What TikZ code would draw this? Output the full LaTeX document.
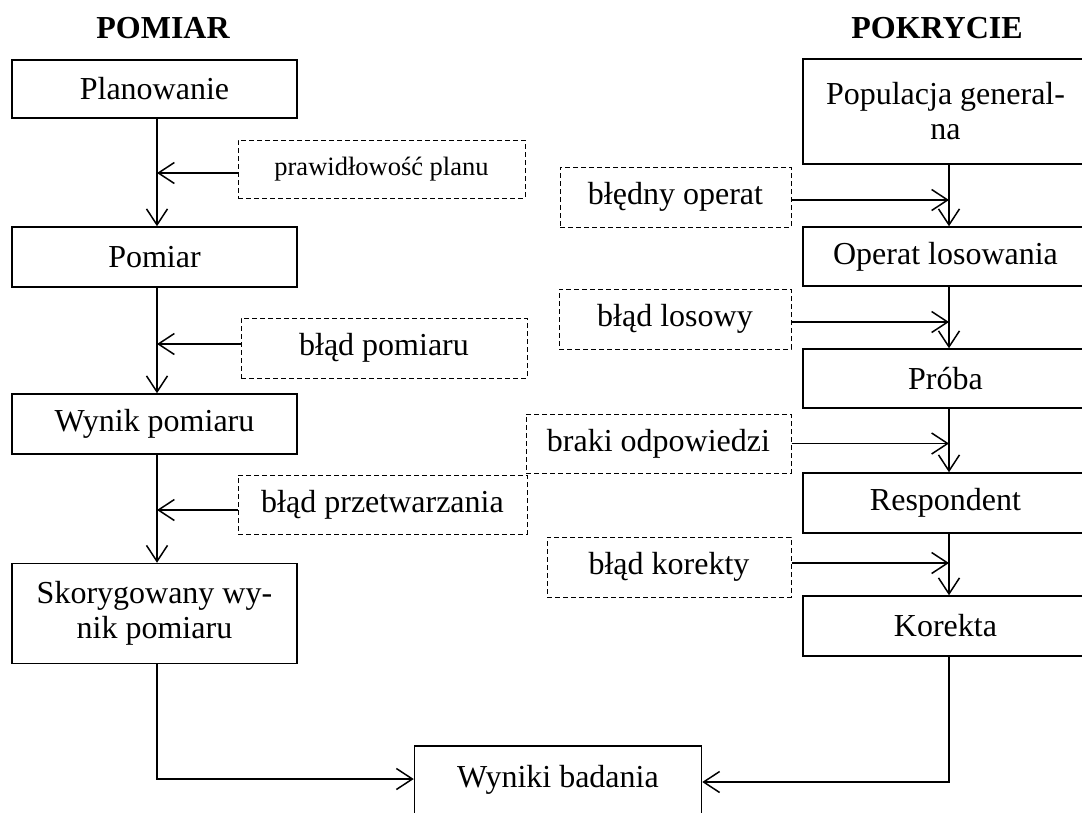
\documentclass[tikz,border=0pt]{standalone}
\usepackage{fontspec}
\setmainfont{Liberation Serif}
\usetikzlibrary{arrows.meta,calc}

\begin{document}
\begin{tikzpicture}[x=1pt,y=-1pt,
  stage/.style={draw, line width=1.5pt, minimum width=285pt, inner sep=0pt,
    align=center, font=\fontsize{32}{35}\selectfont},
  errbox/.style={draw, line width=1pt, dash pattern=on 5pt off 3pt, inner sep=0pt,
    align=center, font=\fontsize{32}{35}\selectfont},
  title/.style={font=\fontsize{32}{35}\selectfont\bfseries, inner sep=0pt},
  flow/.style={line width=1.5pt, -{Straight Barb[length=16pt,width=21pt,line width=1.5pt]}}
]
\useasboundingbox (0,0) rectangle (1082,812);
\clip (0,0) rectangle (1082,812);

% column headings
\node[title] (tpom) at (163,28) {POMIAR};
\node[title] (tpok) at (937,28) {POKRYCIE};

% measurement column
\node[stage, minimum height=58pt]  (plan) at (154.5,89)    {Planowanie};
\node[stage, minimum height=60pt]  (pom)  at (154.5,257)   {Pomiar};
\node[stage, minimum height=60pt]  (wyn)  at (154.5,424)   {Wynik pomiaru};
\node[stage, minimum height=100pt] (skor) at (154.5,613.5) {Skorygowany wy-\\nik pomiaru};

% coverage column
\node[stage, minimum height=105pt] (pop)   at (945.5,111.5) {Populacja general-\\na};
\node[stage, minimum height=59pt]  (oper)  at (945.5,256.5) {Operat losowania};
\node[stage, minimum height=59pt]  (proba) at (945.5,378.5) {Próba};
\node[stage, minimum height=60pt]  (resp)  at (945.5,503)   {Respondent};
\node[stage, minimum height=60pt]  (kor)   at (945.5,626)   {Korekta};

% final result
\node[stage, minimum width=287pt, minimum height=68pt] (wyniki) at (558,780) {Wyniki badania};

% error sources, measurement side
\node[errbox, minimum width=287pt, minimum height=58pt, font=\fontsize{26.5}{30}\selectfont]
  (e1) at (381.5,169) {prawidłowość planu};
\node[errbox, minimum width=286pt, minimum height=60pt] (e2) at (384,348)   {błąd pomiaru};
\node[errbox, minimum width=289pt, minimum height=59pt] (e3) at (382.5,504.5) {błąd przetwarzania};

% error sources, coverage side
\node[errbox, minimum width=231pt, minimum height=60pt] (r1) at (675.5,197)  {błędny operat};
\node[errbox, minimum width=232pt, minimum height=60pt] (r2) at (675,319)    {błąd losowy};
\node[errbox, minimum width=265pt, minimum height=59pt] (r3) at (658.5,443.5) {braki odpowiedzi};
\node[errbox, minimum width=244pt, minimum height=60pt] (r4) at (669,567)    {błąd korekty};

% main flow, measurement side
\draw[flow] ([xshift=2.5pt]plan.south) -- ([xshift=2.5pt]pom.north);
\draw[flow] ([xshift=2.5pt]pom.south)  -- ([xshift=2.5pt]wyn.north);
\draw[flow] ([xshift=2.5pt]wyn.south)  -- ([xshift=2.5pt]skor.north);

% main flow, coverage side
\draw[flow] ([xshift=3.5pt]pop.south)   -- ([xshift=3.5pt]oper.north);
\draw[flow] ([xshift=3.5pt]oper.south)  -- ([xshift=3.5pt]proba.north);
\draw[flow] ([xshift=3.5pt]proba.south) -- ([xshift=3.5pt]resp.north);
\draw[flow] ([xshift=3.5pt]resp.south)  -- ([xshift=3.5pt]kor.north);

% error inputs joining the flows
\coordinate (e1a) at ([yshift=-4pt]e1.west);
\coordinate (e2a) at ([yshift=4pt]e2.west);
\coordinate (e3a) at ([yshift=-5.5pt]e3.west);
\coordinate (mx) at ([xshift=2.5pt]pom.north);
\draw[flow] (e1a) -- (e1a -| mx);
\draw[flow] (e2a) -- (e2a -| mx);
\draw[flow] (e3a) -- (e3a -| mx);

\coordinate (r1a) at ([yshift=-3pt]r1.east);
\coordinate (r2a) at ([yshift=-3pt]r2.east);
\coordinate (r3a) at (r3.east);
\coordinate (r4a) at ([yshift=4pt]r4.east);
\coordinate (cx) at ([xshift=3.5pt]oper.north);
\draw[flow] (r1a) -- (r1a -| cx);
\draw[flow] (r2a) -- (r2a -| cx);
\draw[flow] (r3a) -- (r3a -| cx);
\draw[flow] (r4a) -- (r4a -| cx);

% both branches end in the study results
\draw[flow] ([xshift=2.5pt]skor.south) |- ([yshift=1pt]wyniki.west);
\draw[flow] ([xshift=3.5pt]kor.south)  |- ([yshift=-2pt]wyniki.east);
\end{tikzpicture}
\end{document}
